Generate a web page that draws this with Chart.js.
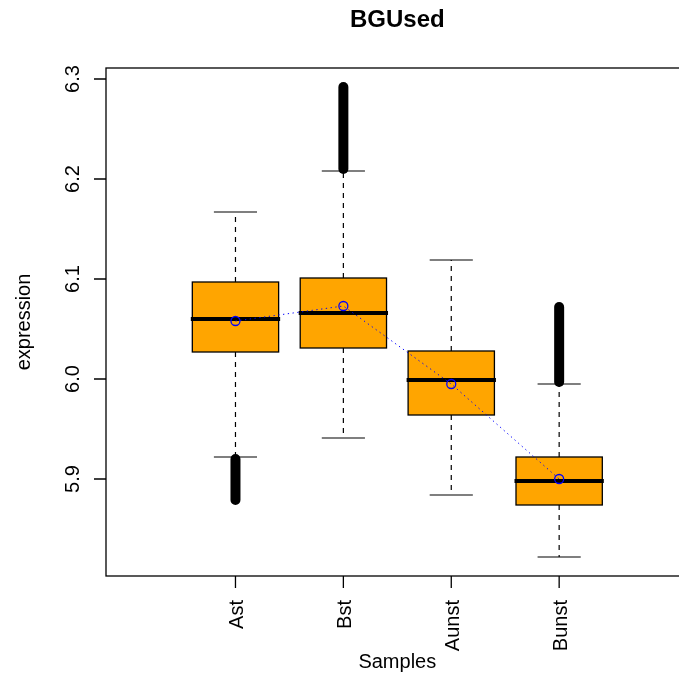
<!DOCTYPE html>
<html>
<head>
<meta charset="utf-8">
<title>BGUsed</title>
<script src="https://cdn.jsdelivr.net/npm/chart.js@4/dist/chart.umd.min.js"></script>
<style>
  html, body { margin: 0; padding: 0; background: #fff; }
  canvas { display: block; }
</style>
</head>
<body>
<canvas id="boxChart" width="679" height="680"></canvas>
<script>
// Datos
const samples = ['Ast', 'Bst', 'Aunst', 'Bunst'];
const whiskerLow = [5.922, 5.941, 5.884, 5.822];
const q1 = [6.027, 6.031, 5.964, 5.874];
const medians = [6.060, 6.066, 5.999, 5.898];
const q3 = [6.097, 6.101, 6.028, 5.922];
const whiskerHigh = [6.167, 6.208, 6.119, 5.995];
const means = [6.058, 6.073, 5.995, 5.900];
// Outliers (muy densos, se ven como una barra): desde / hasta
const outlierFrom = [5.920, 6.210, null, 5.997];
const outlierTo = [5.879, 6.292, null, 6.072];
const yTicks = [5.9, 6.0, 6.1, 6.2, 6.3];
const yTickLabels = ['5.9', '6.0', '6.1', '6.2', '6.3'];

const FONT = '"Liberation Sans", Arial, Helvetica, sans-serif';

// Cajas, bigotes y medianas
const boxPlugin = {
  id: 'boxes',
  beforeDatasetsDraw(chart) {
    const { ctx, scales: { x, y } } = chart;
    ctx.save();
    samples.forEach((s, i) => {
      const cx = x.getPixelForValue(i + 1);
      const half = x.getPixelForValue(i + 1.4) - cx;
      const capHalf = x.getPixelForValue(i + 1.2) - cx;
      const top = y.getPixelForValue(q3[i]);
      const bottom = y.getPixelForValue(q1[i]);

      // bigotes punteados
      ctx.strokeStyle = '#000';
      ctx.lineWidth = 1.2;
      ctx.setLineDash([5, 5]);
      ctx.beginPath();
      ctx.moveTo(cx, top);
      ctx.lineTo(cx, y.getPixelForValue(whiskerHigh[i]));
      ctx.moveTo(cx, bottom);
      ctx.lineTo(cx, y.getPixelForValue(whiskerLow[i]));
      ctx.stroke();
      ctx.setLineDash([]);

      ctx.beginPath();
      [whiskerHigh[i], whiskerLow[i]].forEach(v => {
        const py = y.getPixelForValue(v);
        ctx.moveTo(cx - capHalf, py);
        ctx.lineTo(cx + capHalf, py);
      });
      ctx.stroke();

      // caja
      ctx.fillStyle = '#FFA500';
      ctx.fillRect(cx - half, top, half * 2, bottom - top);
      ctx.lineWidth = 1.3;
      ctx.strokeRect(cx - half, top, half * 2, bottom - top);

      // mediana
      const my = y.getPixelForValue(medians[i]);
      ctx.lineWidth = 4;
      ctx.beginPath();
      ctx.moveTo(cx - half - 1.5, my);
      ctx.lineTo(cx + half + 1.5, my);
      ctx.stroke();
    });
    ctx.restore();
  }
};

// Ejes, marco y textos al estilo R
const axesPlugin = {
  id: 'axesR',
  afterDraw(chart) {
    const { ctx, chartArea, scales: { x, y } } = chart;
    const { left, right, top, bottom } = chartArea;
    ctx.save();
    ctx.strokeStyle = '#000';
    ctx.lineWidth = 1.3;
    // el marco sigue mas alla del borde derecho
    ctx.strokeRect(left, top, 700 - left, bottom - top);

    ctx.fillStyle = '#000';
    ctx.font = '20px ' + FONT;

    // eje y
    ctx.beginPath();
    yTicks.forEach(v => {
      const py = y.getPixelForValue(v);
      ctx.moveTo(left, py);
      ctx.lineTo(left - 12, py);
    });
    ctx.stroke();
    yTicks.forEach((v, i) => {
      ctx.save();
      ctx.translate(78.5, y.getPixelForValue(v));
      ctx.rotate(-Math.PI / 2);
      ctx.textAlign = 'center';
      ctx.textBaseline = 'alphabetic';
      ctx.fillText(yTickLabels[i], 0, 0);
      ctx.restore();
    });

    // eje x
    ctx.beginPath();
    samples.forEach((s, i) => {
      const px = x.getPixelForValue(i + 1);
      ctx.moveTo(px, bottom);
      ctx.lineTo(px, bottom + 12);
    });
    ctx.stroke();
    samples.forEach((s, i) => {
      ctx.save();
      ctx.translate(x.getPixelForValue(i + 1) + 7.5, bottom + 24);
      ctx.rotate(-Math.PI / 2);
      ctx.textAlign = 'right';
      ctx.textBaseline = 'alphabetic';
      ctx.fillText(s, 0, 0);
      ctx.restore();
    });

    // titulos
    const midX = x.getPixelForValue(2.5);
    ctx.textAlign = 'center';
    ctx.textBaseline = 'alphabetic';
    ctx.fillText('Samples', midX, 668);
    ctx.save();
    ctx.translate(29.5, (top + bottom) / 2);
    ctx.rotate(-Math.PI / 2);
    ctx.fillText('expression', 0, 0);
    ctx.restore();

    ctx.font = 'bold 24px ' + FONT;
    ctx.fillText('BGUsed', midX, 27);
    ctx.restore();
  }
};

const datasets = [{
  // medias unidas con linea punteada azul
  data: samples.map((s, i) => ({ x: i + 1, y: means[i] })),
  showLine: true,
  borderColor: '#0000FF',
  borderWidth: 1,
  borderDash: [1.3, 3.5],
  pointRadius: 4.5,
  pointBorderWidth: 1.3,
  pointBorderColor: '#0000FF',
  pointBackgroundColor: 'rgba(0,0,0,0)'
}];

samples.forEach((s, i) => {
  if (outlierFrom[i] === null) return;
  datasets.push({
    data: [{ x: i + 1, y: outlierFrom[i] }, { x: i + 1, y: outlierTo[i] }],
    showLine: true,
    borderColor: '#000',
    borderWidth: 10,
    borderCapStyle: 'round',
    pointRadius: 0
  });
});

new Chart(document.getElementById('boxChart'), {
  type: 'scatter',
  data: { datasets: datasets },
  options: {
    responsive: false,
    animation: false,
    events: [],
    layout: { padding: { left: 106, right: 0, top: 68, bottom: 104 } },
    scales: {
      x: { type: 'linear', min: -0.2, max: 5.057, display: false },
      y: { type: 'linear', min: 5.803, max: 6.311, display: false }
    },
    plugins: {
      legend: { display: false },
      tooltip: { enabled: false }
    }
  },
  plugins: [boxPlugin, axesPlugin]
});
</script>
</body>
</html>
